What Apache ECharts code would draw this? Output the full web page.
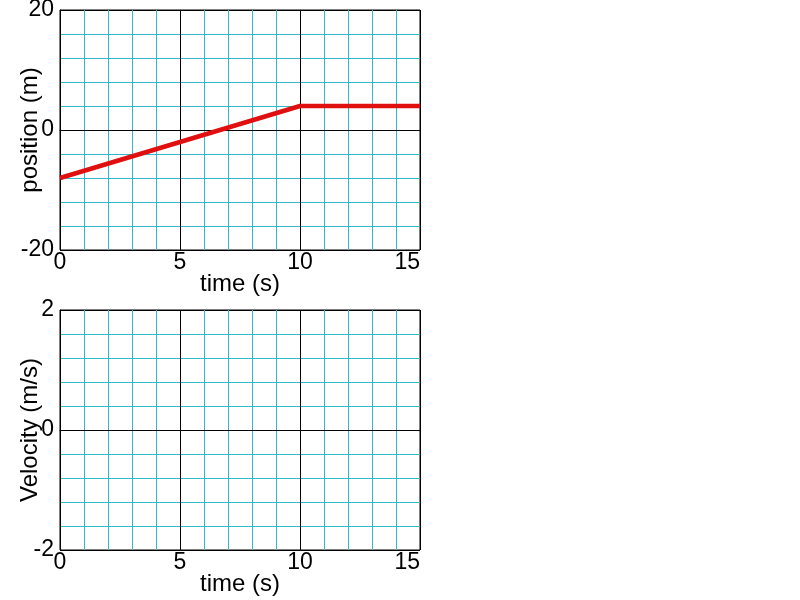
<!DOCTYPE html>
<html>
<head>
<meta charset="utf-8">
<script src="https://cdn.jsdelivr.net/npm/echarts@6/dist/echarts.min.js"></script>
<style>
  html, body { margin: 0; padding: 0; background: #fff; }
  #chart { width: 800px; height: 600px; }
</style>
</head>
<body>
<div id="chart"></div>
<script>
// position vs time
const posTime = [0, 10, 15];
const posValue = [-8, 4, 4];
// velocity vs time (blank graph to fill in)
const velTime = [];
const velValue = [];

const font = "'Liberation Sans', Arial, Helvetica, sans-serif";
const cyan = "#33b8cc";

function xAxisOpt(gridIndex) {
  return {
    gridIndex: gridIndex,
    type: "value",
    min: 0,
    max: 15,
    interval: 5,
    name: "time (s)",
    nameLocation: "middle",
    nameGap: 22,
    nameMoveOverlap: false,
    nameTextStyle: { fontFamily: font, fontSize: 24, color: "#000" },
    axisLine: { show: true, lineStyle: { color: "#000", width: 1 } },
    axisTick: { show: false },
    axisLabel: { fontFamily: font, fontSize: 23, color: "#000", margin: 1, alignMaxLabel: "right" },
    splitLine: { show: true, lineStyle: { color: "#000", width: 1 } },
    minorTick: { show: false, splitNumber: 5 },
    minorSplitLine: { show: true, lineStyle: { color: cyan, width: 1 } },
  };
}

function yAxisOpt(gridIndex, name, lim) {
  return {
    gridIndex: gridIndex,
    type: "value",
    min: -lim,
    max: lim,
    interval: lim,
    name: name,
    nameLocation: "middle",
    nameGap: 18,
    nameMoveOverlap: false,
    nameTextStyle: { fontFamily: font, fontSize: 24, color: "#000" },
    axisLine: { show: true, onZero: false, lineStyle: { color: "#000", width: 1 } },
    axisTick: { show: false },
    axisLabel: { fontFamily: font, fontSize: 23, color: "#000", margin: 6 },
    splitLine: { show: true, lineStyle: { color: "#000", width: 1 } },
    minorTick: { show: false, splitNumber: 5 },
    minorSplitLine: { show: true, lineStyle: { color: cyan, width: 1 } },
  };
}

let posData = posTime.map(function (t, i) { return [t, posValue[i]]; });
let velData = velTime.map(function (t, i) { return [t, velValue[i]]; });

let option = {
  animation: false,
  backgroundColor: "#fff",
  grid: [
    { left: 60, top: 10, width: 360, height: 240, outerBoundsMode: "none", containLabel: false, show: true, borderColor: "#000", borderWidth: 1, backgroundColor: "transparent" },
    { left: 60, top: 310, width: 360, height: 240, outerBoundsMode: "none", containLabel: false, show: true, borderColor: "#000", borderWidth: 1, backgroundColor: "transparent" },
  ],
  xAxis: [xAxisOpt(0), xAxisOpt(1)],
  yAxis: [yAxisOpt(0, "position (m)", 20), yAxisOpt(1, "Velocity (m/s)", 2)],
  series: [
    {
      type: "line",
      xAxisIndex: 0,
      yAxisIndex: 0,
      data: posData,
      symbol: "none",
      lineStyle: { color: "#e01010", width: 4.5 },
      z: 5,
    },
    {
      type: "line",
      xAxisIndex: 1,
      yAxisIndex: 1,
      data: velData,
      symbol: "none",
      lineStyle: { color: "#e01010", width: 4.5 },
    },
  ],
};

let myChart = echarts.init(document.getElementById("chart"));
myChart.setOption(option);
</script>
</body>
</html>
